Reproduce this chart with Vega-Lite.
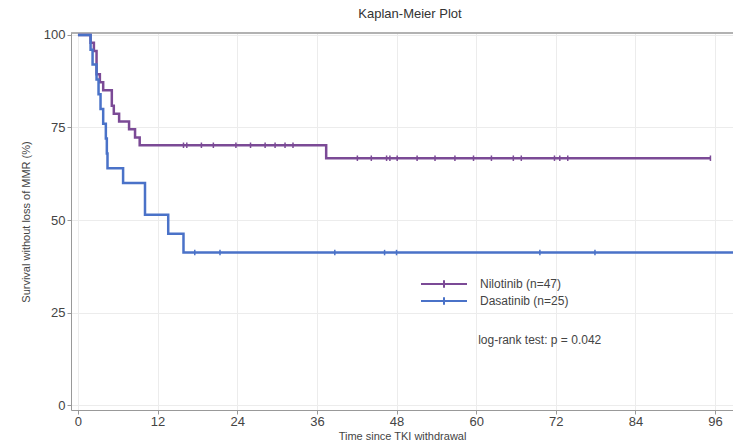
{
  "$schema": "https://vega.github.io/schema/vega-lite/v6.json",
  "autosize": "none",
  "width": 662,
  "height": 377,
  "padding": {"left": 71, "top": 33, "right": 0, "bottom": 32},
  "background": "white",
  "title": {"text": "Kaplan-Meier Plot", "fontSize": 13, "fontWeight": "normal", "color": "#333", "font": "Liberation Sans", "offset": 8, "dx": 8},
  "datasets": {
    "curves": [
      {"group": "Nilotinib (n=47)", "t": 0, "s": 100},
      {"group": "Nilotinib (n=47)", "t": 1.9, "s": 97.9},
      {"group": "Nilotinib (n=47)", "t": 2.4, "s": 95.7},
      {"group": "Nilotinib (n=47)", "t": 2.8, "s": 89.4},
      {"group": "Nilotinib (n=47)", "t": 3.3, "s": 87.2},
      {"group": "Nilotinib (n=47)", "t": 3.8, "s": 85.1},
      {"group": "Nilotinib (n=47)", "t": 5.1, "s": 80.9},
      {"group": "Nilotinib (n=47)", "t": 5.4, "s": 78.7},
      {"group": "Nilotinib (n=47)", "t": 6.2, "s": 76.6},
      {"group": "Nilotinib (n=47)", "t": 7.7, "s": 74.5},
      {"group": "Nilotinib (n=47)", "t": 8.6, "s": 72.3},
      {"group": "Nilotinib (n=47)", "t": 9.3, "s": 70.2},
      {"group": "Nilotinib (n=47)", "t": 37.4, "s": 66.7},
      {"group": "Nilotinib (n=47)", "t": 95.3, "s": 66.7},
      {"group": "Dasatinib (n=25)", "t": 0, "s": 100},
      {"group": "Dasatinib (n=25)", "t": 1.9, "s": 96},
      {"group": "Dasatinib (n=25)", "t": 2.2, "s": 92},
      {"group": "Dasatinib (n=25)", "t": 2.8, "s": 88},
      {"group": "Dasatinib (n=25)", "t": 3.1, "s": 84},
      {"group": "Dasatinib (n=25)", "t": 3.4, "s": 80},
      {"group": "Dasatinib (n=25)", "t": 3.8, "s": 76},
      {"group": "Dasatinib (n=25)", "t": 4.2, "s": 72},
      {"group": "Dasatinib (n=25)", "t": 4.35, "s": 68},
      {"group": "Dasatinib (n=25)", "t": 4.45, "s": 64},
      {"group": "Dasatinib (n=25)", "t": 6.8, "s": 60},
      {"group": "Dasatinib (n=25)", "t": 10.1, "s": 51.4},
      {"group": "Dasatinib (n=25)", "t": 13.6, "s": 46.3},
      {"group": "Dasatinib (n=25)", "t": 15.9, "s": 41.2},
      {"group": "Dasatinib (n=25)", "t": 98.7, "s": 41.2}
    ],
    "censors": [
      {"group": "Nilotinib (n=47)", "t": 15.9, "s": 70.2},
      {"group": "Nilotinib (n=47)", "t": 16.4, "s": 70.2},
      {"group": "Nilotinib (n=47)", "t": 18.6, "s": 70.2},
      {"group": "Nilotinib (n=47)", "t": 20.4, "s": 70.2},
      {"group": "Nilotinib (n=47)", "t": 23.8, "s": 70.2},
      {"group": "Nilotinib (n=47)", "t": 26.0, "s": 70.2},
      {"group": "Nilotinib (n=47)", "t": 28.2, "s": 70.2},
      {"group": "Nilotinib (n=47)", "t": 29.7, "s": 70.2},
      {"group": "Nilotinib (n=47)", "t": 31.2, "s": 70.2},
      {"group": "Nilotinib (n=47)", "t": 32.4, "s": 70.2},
      {"group": "Nilotinib (n=47)", "t": 42.1, "s": 66.7},
      {"group": "Nilotinib (n=47)", "t": 44.2, "s": 66.7},
      {"group": "Nilotinib (n=47)", "t": 46.5, "s": 66.7},
      {"group": "Nilotinib (n=47)", "t": 47.0, "s": 66.7},
      {"group": "Nilotinib (n=47)", "t": 48.1, "s": 66.7},
      {"group": "Nilotinib (n=47)", "t": 51.1, "s": 66.7},
      {"group": "Nilotinib (n=47)", "t": 53.8, "s": 66.7},
      {"group": "Nilotinib (n=47)", "t": 56.8, "s": 66.7},
      {"group": "Nilotinib (n=47)", "t": 59.6, "s": 66.7},
      {"group": "Nilotinib (n=47)", "t": 62.3, "s": 66.7},
      {"group": "Nilotinib (n=47)", "t": 65.6, "s": 66.7},
      {"group": "Nilotinib (n=47)", "t": 66.8, "s": 66.7},
      {"group": "Nilotinib (n=47)", "t": 71.8, "s": 66.7},
      {"group": "Nilotinib (n=47)", "t": 72.6, "s": 66.7},
      {"group": "Nilotinib (n=47)", "t": 73.8, "s": 66.7},
      {"group": "Nilotinib (n=47)", "t": 95.3, "s": 66.7},
      {"group": "Dasatinib (n=25)", "t": 17.6, "s": 41.2},
      {"group": "Dasatinib (n=25)", "t": 21.4, "s": 41.2},
      {"group": "Dasatinib (n=25)", "t": 38.7, "s": 41.2},
      {"group": "Dasatinib (n=25)", "t": 46.2, "s": 41.2},
      {"group": "Dasatinib (n=25)", "t": 48.0, "s": 41.2},
      {"group": "Dasatinib (n=25)", "t": 69.6, "s": 41.2},
      {"group": "Dasatinib (n=25)", "t": 77.9, "s": 41.2}
    ],
    "annot": [
      {"label": "log-rank test: p = 0.042", "t": 60.3, "s": 17.6}
    ]
  },
  "config": {
    "view": {"stroke": null},
    "font": "Liberation Sans",
    "axis": {
      "labelFont": "Liberation Sans",
      "titleFont": "Liberation Sans",
      "labelFontSize": 13,
      "labelColor": "#444",
      "titleFontSize": 11,
      "titleFontWeight": "normal",
      "titleColor": "#444",
      "domainColor": "#999",
      "tickColor": "#999",
      "tickSize": 4,
      "gridColor": "#ececec",
      "gridWidth": 1
    }
  },
  "layer": [
    {
      "data": {"values": [{}]},
      "mark": {"type": "rule", "color": "#999", "strokeWidth": 1.5},
      "encoding": {"y": {"datum": 100.54, "type": "quantitative"}}
    },
    {
      "data": {"name": "curves"},
      "mark": {"type": "line", "interpolate": "step-after", "strokeWidth": 2.5, "clip": true},
      "encoding": {
        "x": {
          "field": "t", "type": "quantitative",
          "scale": {"domain": [-1.05, 98.7], "nice": false, "zero": false},
          "axis": {"values": [0, 12, 24, 36, 48, 60, 72, 84, 96], "title": "Time since TKI withdrawal", "titlePadding": 2, "labelPadding": 1, "grid": true}
        },
        "y": {
          "field": "s", "type": "quantitative",
          "scale": {"domain": [-1.35, 100.54], "nice": false, "zero": false},
          "axis": {"values": [0, 25, 50, 75, 100], "title": "Survival without loss of MMR (%)", "titlePadding": 12, "labelPadding": 2, "grid": true}
        },
        "color": {
          "field": "group", "type": "nominal",
          "scale": {"domain": ["Nilotinib (n=47)", "Dasatinib (n=25)"], "range": ["#7b4a96", "#4a72c8"]},
          "legend": {
            "title": null,
            "orient": "none",
            "legendX": 364,
            "legendY": 242,
            "symbolType": "M-3,0H3M0,-0.5V0.5",
            "symbolSize": 235,
            "symbolStrokeWidth": 2,
            "labelFontSize": 12,
            "labelColor": "#444",
            "labelFont": "Liberation Sans",
            "rowPadding": -1,
            "labelOffset": 27
          }
        }
      }
    },
    {
      "data": {"name": "censors"},
      "mark": {"type": "point", "shape": "M0,-1L0,1", "size": 30, "strokeWidth": 1.5, "filled": false, "opacity": 1},
      "encoding": {
        "x": {"field": "t", "type": "quantitative"},
        "y": {"field": "s", "type": "quantitative"},
        "color": {"field": "group", "type": "nominal", "legend": null}
      }
    },
    {
      "data": {"name": "annot"},
      "mark": {"type": "text", "align": "left", "baseline": "middle", "fontSize": 12, "color": "#444", "font": "Liberation Sans"},
      "encoding": {
        "x": {"field": "t", "type": "quantitative"},
        "y": {"field": "s", "type": "quantitative"},
        "text": {"field": "label"}
      }
    }
  ]
}
